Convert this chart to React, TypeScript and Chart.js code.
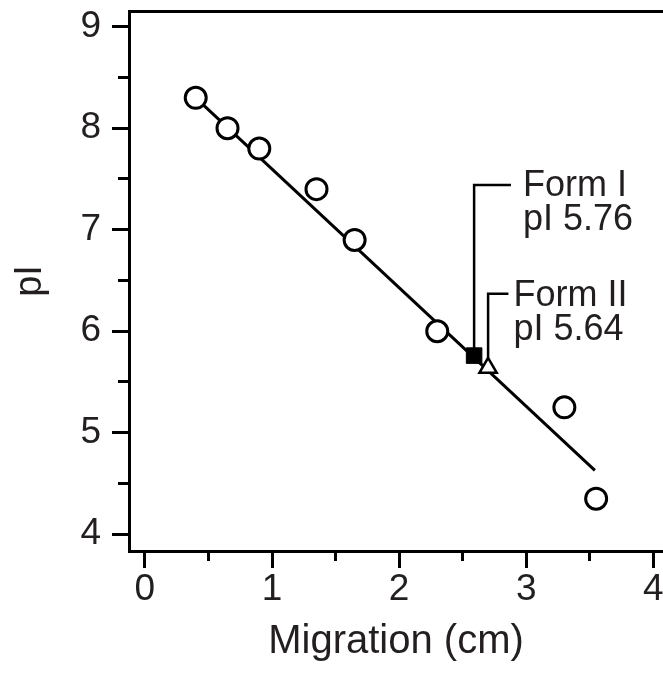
import React, { useEffect, useRef } from "react";
import { Chart, registerables } from "chart.js";

Chart.register(...registerables);

// ---- data ----
const migration = [0.4, 0.65, 0.9, 1.35, 1.65, 2.3, 3.3, 3.55];
const pIValues = [8.3, 8.0, 7.8, 7.4, 6.9, 6.0, 5.25, 4.35];

const fitLineX = [0.4, 3.54];
const fitLineY = [8.3, 4.63];

const formIPoint = [2.59, 5.76];
const formIIPoint = [2.7, 5.64];

const calloutIX = [2.59, 2.59, 2.88];
const calloutIY = [5.83, 7.44, 7.44];
const calloutIIX = [2.7, 2.7, 2.86];
const calloutIIY = [5.74, 6.37, 6.37];

const labelsI = ["Form I", "pI 5.76"];
const labelsII = ["Form II", "pI 5.64"];
const labelIAnchor = [2.975, 7.46];
const labelIIAnchor = [2.9, 6.38];

const xMin = -0.125;
const xMax = 4.076;
const yMin = 3.835;
const yMax = 9.155;

const xTitle = "Migration (cm)";
const yTitle = "pI";

const FONT = "'Liberation Sans', Arial, Helvetica, sans-serif";
const TEXT = "#231f20";

const toXY = (xs: number[], ys: number[]) => xs.map((x, i) => ({ x, y: ys[i] }));

const annotationPlugin = {
  id: "calloutLabels",
  afterDatasetsDraw(chart: any) {
    const { ctx, scales } = chart;
    const size = 36;
    const draw = (lines: string[], anchor: number[]) => {
      const px = scales.x.getPixelForValue(anchor[0]);
      const py = scales.y.getPixelForValue(anchor[1]);
      ctx.save();
      ctx.font = `${size}px ${FONT}`;
      ctx.fillStyle = TEXT;
      ctx.textAlign = "left";
      ctx.textBaseline = "alphabetic";
      lines.forEach((t, i) => {
        ctx.fillText(t, px, py + (size * 0.716) / 2 + i * 34);
      });
      ctx.restore();
    };
    draw(labelsI, labelIAnchor);
    draw(labelsII, labelIIAnchor);
  },
};

const zeroPad = (s: any) => {
  s.paddingLeft = 0;
  s.paddingRight = 0;
  s.paddingTop = 0;
  s.paddingBottom = 0;
};

export default function App() {
  const ref = useRef<HTMLCanvasElement | null>(null);

  useEffect(() => {
    if (!ref.current) return;
    const tickGrid = (len: number) => ({
      display: true,
      drawOnChartArea: false,
      drawTicks: true,
      tickLength: len,
      tickWidth: 3,
      tickColor: "#000",
      color: "#000",
      lineWidth: 3,
    });
    const chart = new Chart(ref.current, {
      type: "scatter",
      data: {
        datasets: [
          {
            data: toXY(fitLineX, fitLineY),
            showLine: true,
            borderColor: "#000",
            borderWidth: 3,
            pointRadius: 0,
            order: 5,
          } as any,
          {
            data: toXY(calloutIX, calloutIY),
            showLine: true,
            borderColor: "#000",
            borderWidth: 2.5,
            pointRadius: 0,
            order: 4,
          },
          {
            data: toXY(calloutIIX, calloutIIY),
            showLine: true,
            borderColor: "#000",
            borderWidth: 2.5,
            pointRadius: 0,
            order: 4,
          },
          {
            data: toXY(migration, pIValues),
            pointStyle: "circle",
            pointRadius: 10.5,
            pointBorderWidth: 3,
            pointBorderColor: "#000",
            pointBackgroundColor: "#fff",
            order: 1,
          },
          {
            data: [{ x: formIPoint[0], y: formIPoint[1] }],
            pointStyle: "rect",
            pointRadius: 11,
            pointBorderWidth: 1,
            pointBorderColor: "#000",
            pointBackgroundColor: "#000",
            order: 0,
          },
          {
            data: [{ x: formIIPoint[0], y: formIIPoint[1] }],
            pointStyle: "triangle",
            pointRadius: 10,
            pointBorderWidth: 2.5,
            pointBorderColor: "#000",
            pointBackgroundColor: "#fff",
            order: 0,
          },
        ],
      },
      options: {
        animation: false,
        responsive: false,
        maintainAspectRatio: false,
        devicePixelRatio: 1,
        layout: { padding: { left: 0, top: 11, right: 0, bottom: 0 }, autoPadding: false },
        plugins: {
          legend: { display: false },
          tooltip: { enabled: false },
        },
        scales: {
          x: {
            type: "linear",
            position: "bottom",
            weight: 1,
            min: xMin,
            max: xMax,
            ticks: {
              stepSize: 1,
              includeBounds: false,
              padding: 0,
              color: TEXT,
              font: { family: FONT, size: 37 },
              maxRotation: 0,
              autoSkip: false,
            },
            grid: tickGrid(17),
            border: { display: true, color: "#000", width: 3 },
            title: {
              display: true,
              text: xTitle,
              color: TEXT,
              font: { family: FONT, size: 40 },
              padding: { top: 0, bottom: 11 },
            },
            afterFit: (s: any) => {
              s.height = 126;
              zeroPad(s);
            },
          },
          xMinor: {
            type: "linear",
            position: "bottom",
            weight: 0,
            min: xMin,
            max: xMax,
            ticks: { display: false, stepSize: 0.5, includeBounds: false },
            grid: tickGrid(10),
            border: { display: false },
            afterFit: (s: any) => {
              s.height = 0;
              zeroPad(s);
            },
          },
          xTop: {
            type: "linear",
            position: "top",
            min: xMin,
            max: xMax,
            ticks: { display: false },
            grid: { display: true, drawOnChartArea: false, drawTicks: false },
            border: { display: true, color: "#000", width: 3 },
            afterFit: (s: any) => {
              s.height = 0;
              zeroPad(s);
            },
          },
          y: {
            type: "linear",
            position: "left",
            weight: 1,
            min: yMin,
            max: yMax,
            ticks: {
              stepSize: 1,
              includeBounds: false,
              padding: 11,
              color: TEXT,
              font: { family: FONT, size: 37 },
            },
            grid: tickGrid(17),
            border: { display: true, color: "#000", width: 3 },
            title: {
              display: true,
              text: yTitle,
              color: TEXT,
              font: { family: FONT, size: 38 },
              padding: { top: 8, bottom: 0 },
            },
            afterFit: (s: any) => {
              s.width = 129;
              zeroPad(s);
            },
          },
          yMinor: {
            type: "linear",
            position: "left",
            weight: 0,
            min: yMin,
            max: yMax,
            ticks: { display: false, stepSize: 0.5, includeBounds: false },
            grid: tickGrid(11),
            border: { display: false },
            afterFit: (s: any) => {
              s.width = 0;
              zeroPad(s);
            },
          },
        },
      } as any,
      plugins: [annotationPlugin],
    });
    return () => chart.destroy();
  }, []);

  return (
    <div
      style={{
        position: "fixed",
        left: 0,
        top: 0,
        width: 663,
        height: 677,
        overflow: "hidden",
        background: "#fff",
      }}
    >
      <canvas
        ref={ref}
        width={663}
        height={677}
        style={{ display: "block", width: 663, height: 677 }}
      />
    </div>
  );
}
